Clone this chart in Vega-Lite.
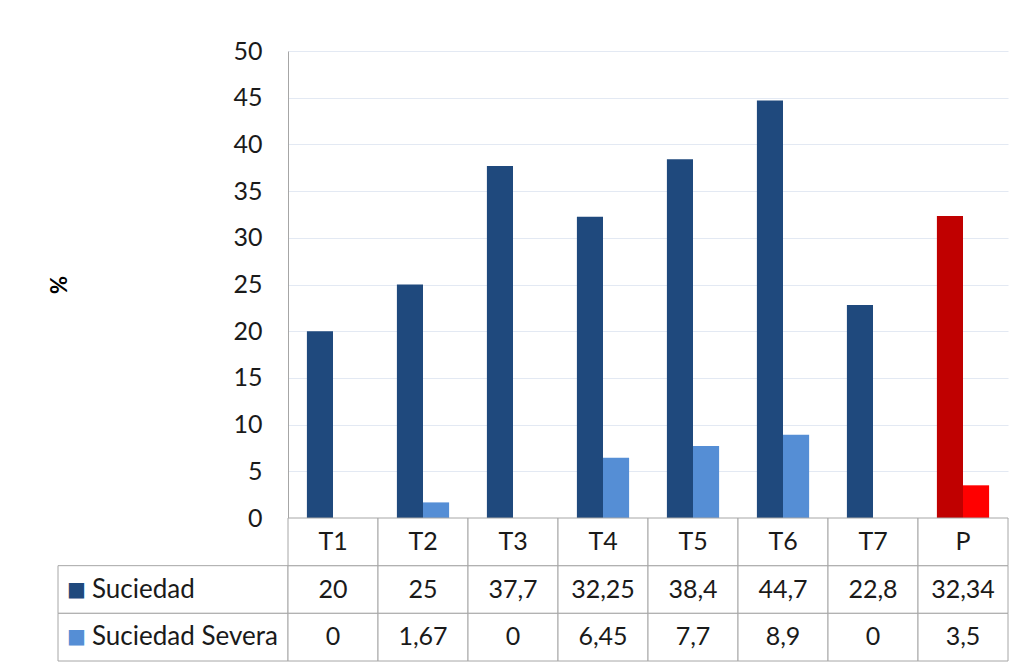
{
  "$schema": "https://vega.github.io/schema/vega-lite/v6.json",
  "background": "white",
  "padding": {"left": 48, "top": 39, "right": 0, "bottom": 0},
  "config": {
    "view": {"stroke": null},
    "font": "Lato",
    "locale": {
      "number": {"decimal": ",", "thousands": ".", "grouping": [3], "currency": ["", " €"]}
    }
  },
  "datasets": {
    "limpieza": [
      {"cat": "T1", "serie": "Suciedad", "value": 20},
      {"cat": "T1", "serie": "Suciedad Severa", "value": 0},
      {"cat": "T2", "serie": "Suciedad", "value": 25},
      {"cat": "T2", "serie": "Suciedad Severa", "value": 1.67},
      {"cat": "T3", "serie": "Suciedad", "value": 37.7},
      {"cat": "T3", "serie": "Suciedad Severa", "value": 0},
      {"cat": "T4", "serie": "Suciedad", "value": 32.25},
      {"cat": "T4", "serie": "Suciedad Severa", "value": 6.45},
      {"cat": "T5", "serie": "Suciedad", "value": 38.4},
      {"cat": "T5", "serie": "Suciedad Severa", "value": 7.7},
      {"cat": "T6", "serie": "Suciedad", "value": 44.7},
      {"cat": "T6", "serie": "Suciedad Severa", "value": 8.9},
      {"cat": "T7", "serie": "Suciedad", "value": 22.8},
      {"cat": "T7", "serie": "Suciedad Severa", "value": 0},
      {"cat": "P", "serie": "Suciedad", "value": 32.34},
      {"cat": "P", "serie": "Suciedad Severa", "value": 3.5}
    ],
    "series": [
      {"serie": "Suciedad"},
      {"serie": "Suciedad Severa"}
    ]
  },
  "columns": 2,
  "spacing": 0,
  "bounds": "flush",
  "concat": [
    {
      "width": 230,
      "height": 467,
      "data": {"values": []},
      "mark": "text",
      "encoding": {}
    },
    {
      "width": 720,
      "height": 467,
      "data": {"name": "limpieza"},
      "mark": {"type": "bar"},
      "encoding": {
        "x": {
          "field": "cat",
          "type": "nominal",
          "sort": null,
          "scale": {"paddingInner": 0.42, "paddingOuter": 0.21},
          "axis": null
        },
        "xOffset": {
          "field": "serie",
          "type": "nominal",
          "sort": ["Suciedad", "Suciedad Severa"],
          "scale": {"paddingInner": 0, "paddingOuter": 0}
        },
        "y": {
          "field": "value",
          "type": "quantitative",
          "scale": {"domain": [0, 50], "nice": false},
          "axis": {
            "title": "%",
            "titleFont": "Lato",
            "titleFontWeight": "bold",
            "titleFontSize": 22,
            "titleColor": "#000000",
            "titlePadding": 161,
            "values": [0, 5, 10, 15, 20, 25, 30, 35, 40, 45, 50],
            "ticks": false,
            "tickSize": 0,
            "labelPadding": 26,
            "labelFontSize": 25,
            "labelColor": "#1a1a1a",
            "domainColor": "#A6A6A6",
            "grid": true,
            "gridColor": "#E3E9F3"
          }
        },
        "color": {
          "condition": [
            {"test": "datum.cat === 'P' && datum.serie === 'Suciedad'", "value": "#C00000"},
            {"test": "datum.cat === 'P'", "value": "#FF0000"},
            {"test": "datum.serie === 'Suciedad'", "value": "#1F497D"}
          ],
          "value": "#558ED5"
        }
      }
    },
    {
      "width": 230,
      "height": 143,
      "data": {"name": "series"},
      "encoding": {
        "y": {
          "field": "serie",
          "type": "nominal",
          "scale": {"domain": ["header", "Suciedad", "Suciedad Severa"], "paddingInner": 0, "paddingOuter": 0},
          "axis": null
        }
      },
      "layer": [
        {"mark": {"type": "rect", "fill": "white", "stroke": "#A6A6A6", "strokeWidth": 1}},
        {
          "mark": {"type": "text", "text": "■", "font": "DejaVu Sans", "fontSize": 20, "align": "left", "dx": -106},
          "encoding": {
            "color": {
              "condition": {"test": "datum.serie === 'Suciedad'", "value": "#1F497D"},
              "value": "#558ED5"
            }
          }
        },
        {
          "mark": {"type": "text", "align": "left", "dx": -81, "fontSize": 26, "color": "#1a1a1a"},
          "encoding": {"text": {"field": "serie", "type": "nominal"}}
        }
      ]
    },
    {
      "width": 720,
      "height": 143,
      "data": {"name": "limpieza"},
      "encoding": {
        "x": {
          "field": "cat",
          "type": "nominal",
          "sort": null,
          "scale": {"paddingInner": 0, "paddingOuter": 0},
          "axis": null
        }
      },
      "layer": [
        {
          "mark": {"type": "rect", "fill": "white", "stroke": "#A6A6A6", "strokeWidth": 1},
          "encoding": {
            "y": {
              "field": "serie",
              "type": "nominal",
              "scale": {"domain": ["header", "Suciedad", "Suciedad Severa"], "paddingInner": 0, "paddingOuter": 0},
              "axis": null
            }
          }
        },
        {
          "transform": [{"filter": "datum.serie === 'Suciedad'"}],
          "mark": {"type": "rect", "fill": "white", "stroke": "#A6A6A6", "strokeWidth": 1},
          "encoding": {"y": {"datum": "header", "type": "nominal"}}
        },
        {
          "transform": [{"filter": "datum.serie === 'Suciedad'"}],
          "mark": {"type": "text", "fontSize": 25, "color": "#1a1a1a"},
          "encoding": {
            "y": {"datum": "header", "type": "nominal"},
            "text": {"field": "cat", "type": "nominal"}
          }
        },
        {
          "mark": {"type": "text", "fontSize": 25, "color": "#1a1a1a"},
          "encoding": {
            "y": {"field": "serie", "type": "nominal"},
            "text": {"field": "value", "type": "quantitative", "format": "~g"}
          }
        }
      ]
    }
  ]
}
